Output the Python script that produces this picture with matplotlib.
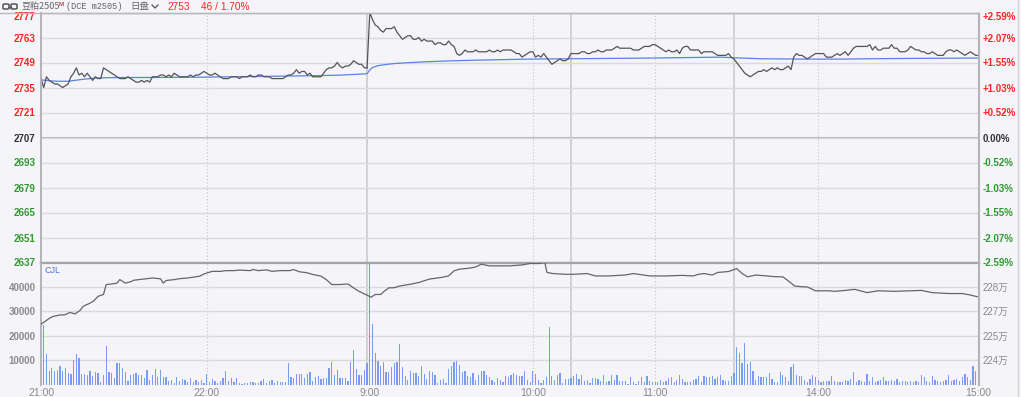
import matplotlib
matplotlib.use('Agg')
import matplotlib.pyplot as plt
from matplotlib.lines import Line2D
from matplotlib.patches import FancyBboxPatch
import numpy as np

# ---------------- data ----------------
price_night = [
    2740, 2735, 2741, 2739, 2738, 2737, 2737, 2736, 2735, 2736,
    2737, 2741, 2743, 2746, 2742, 2743, 2741, 2743, 2741, 2739,
    2741, 2740, 2740, 2746, 2745, 2744, 2743, 2742, 2741, 2740,
    2740, 2740, 2741, 2740, 2739, 2738, 2738, 2739, 2738, 2739,
    2738, 2741, 2741, 2741, 2742, 2742, 2741, 2742, 2741, 2743,
    2742, 2741, 2741, 2741, 2741, 2742, 2741, 2742, 2742, 2743,
    2744, 2743, 2742, 2742, 2743, 2742, 2741, 2740, 2740, 2740,
    2741, 2741, 2741, 2740, 2741, 2741, 2741, 2742, 2741, 2741,
    2742, 2742, 2741, 2741, 2741, 2740, 2740, 2740, 2740, 2740,
    2741, 2742, 2742, 2743, 2745, 2743, 2744, 2744, 2742, 2743,
    2741, 2741, 2741, 2741, 2743, 2745, 2746, 2746, 2747, 2749,
    2747, 2746, 2747, 2747, 2748, 2750, 2749, 2748, 2748, 2746,
    2746,
]
price_day = [
    2777, 2773, 2770, 2769, 2767, 2766, 2768, 2768, 2768, 2769,
    2766, 2764, 2762, 2763, 2764, 2764, 2762, 2762, 2763, 2761,
    2762, 2761, 2761, 2761, 2759, 2760, 2760, 2759, 2759, 2761,
    2759, 2758, 2754, 2753, 2754, 2756, 2755, 2755, 2755, 2756,
    2755, 2755, 2755, 2755, 2756, 2755, 2755, 2756, 2755, 2756,
    2756, 2756, 2756, 2755, 2754, 2754, 2752, 2753, 2754, 2755,
    2755, 2752, 2753, 2752, 2754, 2752, 2750, 2748, 2749, 2750,
    2751, 2750, 2750, 2751, 2754, 2754, 2754, 2754, 2755, 2755,
    2754, 2754, 2755, 2755, 2756, 2755, 2755, 2756, 2756, 2756,
    2757, 2758, 2757, 2757, 2757, 2757, 2757, 2756, 2756, 2756,
    2757, 2758, 2758, 2758, 2759, 2759, 2758, 2757, 2756, 2755,
    2756, 2755, 2755, 2756, 2754, 2757, 2758, 2758, 2756, 2756,
    2756, 2756, 2754, 2755, 2755, 2755, 2755, 2754, 2753, 2753,
    2753, 2753, 2754, 2752, 2751, 2749, 2747, 2745, 2743, 2742,
    2741, 2742, 2743, 2744, 2744, 2745, 2744, 2745, 2746, 2745,
    2746, 2745, 2745, 2746, 2747, 2745, 2752, 2754, 2753, 2753,
    2752, 2751, 2752, 2753, 2754, 2754, 2754, 2754, 2752, 2752,
    2752, 2753, 2754, 2753, 2754, 2755, 2753, 2755, 2757, 2758,
    2758, 2758, 2758, 2758, 2759, 2756, 2758, 2756, 2756, 2757,
    2757, 2757, 2759, 2757, 2757, 2755, 2755, 2755, 2756, 2758,
    2757, 2756, 2756, 2755, 2755, 2754, 2754, 2755, 2754, 2753,
    2753, 2753, 2755, 2756, 2756, 2755, 2756, 2755, 2754, 2753,
    2754, 2755, 2754, 2753, 2753,
]

avg_time = [0, 3, 6, 10, 15, 20, 25, 30, 40, 50, 60, 70, 80, 90, 100, 110, 115, 120,
            121, 122, 124, 127, 130, 135, 140, 150, 160, 170, 180, 195, 210, 225, 240,
            250, 256, 265, 280, 295, 305, 320, 335, 345]
avg_vals = [2739.3, 2738.8, 2738.5, 2738.5, 2739.5, 2740.3, 2740.5, 2740.6, 2740.6, 2740.7,
            2740.8, 2741.0, 2741.2, 2741.4, 2741.6, 2741.9, 2742.3, 2742.7,
            2744.8, 2746.2, 2747.2, 2747.9, 2748.4, 2748.9, 2749.3, 2749.9, 2750.3, 2750.6,
            2750.9, 2751.1, 2751.3, 2751.5, 2751.8, 2752.0, 2751.6, 2751.1, 2750.9, 2750.9,
            2751.1, 2751.3, 2751.4, 2751.5]

volume = [
    24500, 12600, 5750, 6700, 5600, 6000, 7700, 5600, 6700, 4650,
    4400, 10100, 12600, 10800, 4250, 4500, 4000, 5750, 3700, 5350,
    4800, 1200, 4000, 16000, 5350, 4800, 2900, 9000, 9000, 7000,
    5350, 1650, 4000, 4500, 4650, 4000, 4000, 2600, 6000, 1900,
    4000, 6300, 3300, 6000, 3300, 3300, 1500, 1800, 800, 3000,
    1650, 2300, 2000, 1200, 2600, 950, 1900, 950, 1900, 700,
    4400, 950, 2300, 1500, 700, 1500, 2600, 5600, 1500, 2600,
    950, 2900, 550, 400, 700, 800, 1200, 1200, 550, 800,
    1500, 2200, 700, 1500, 2000, 700, 1500, 1100, 1100, 1100,
    8800, 3300, 2600, 4400, 4400, 4250, 2600, 4250, 5000, 1500,
    3150, 3700, 2300, 2900, 2600, 6700, 9450, 4000, 6000, 2600,
    2600, 2900, 1500, 9450, 14000, 6450, 4000, 4000, 6000, 8800,
    60000, 25000, 12900, 9700, 7800, 9450, 5000, 5000, 7100, 8900,
    9300, 16700, 7100, 3400, 2050, 5500, 4800, 4650, 3400, 7800,
    4400, 2300, 5500, 5100, 3800, 700, 1950, 2300, 700, 6350,
    7800, 9300, 9600, 7950, 5200, 5500, 3400, 3000, 4650, 2050,
    3800, 5500, 5500, 4100, 3000, 2050, 1100, 2750, 2050, 1100,
    3400, 3300, 3800, 4800, 4100, 3400, 3400, 5750, 2050, 1100,
    5500, 4400, 2050, 700, 2050, 3000, 23700, 3400, 2050, 4100,
    4800, 700, 2500, 2500, 2750, 3400, 4400, 2500, 3800, 1650,
    2050, 700, 2750, 2750, 2500, 1650, 3800, 1100, 1650, 3800,
    2050, 3800, 1650, 1650, 1650, 300, 3000, 1100, 300, 1650,
    3000, 1100, 3400, 1650, 1100, 1100, 1100, 2050, 1100, 1400,
    2750, 3000, 1100, 2050, 3800, 2500, 1100, 1100, 1100, 2050,
    2500, 3400, 1100, 3400, 3000, 3000, 3400, 2500, 3000, 3800,
    2050, 1650, 1650, 3400, 4800, 15300, 13000, 8900, 17100, 8500,
    9300, 5750, 2050, 3400, 3150, 3150, 3000, 4800, 2500, 1100,
    1100, 5200, 4100, 3000, 1400, 7250, 8500, 3800, 3400, 3400,
    2050, 1100, 2500, 4100, 3000, 2050, 1100, 1400, 1400, 1650,
    3400, 1650, 1100, 1100, 1100, 2050, 1650, 2500, 5200, 1100,
    2050, 1400, 1100, 4400, 1400, 3150, 1100, 1650, 2050, 3000,
    1400, 1650, 2050, 1400, 2500, 1100, 1650, 1400, 1100, 1400,
    1100, 1650, 1100, 3800, 3000, 1650, 1100, 3400, 2050, 1650,
    1100, 1400, 2050, 3800, 1650, 2050, 2500, 1650, 3000, 4400,
    3000, 2050, 7500, 5750, 6000,
]

oi_time = [0, 1.5, 3.3, 4.5, 5.7, 7, 8.8, 10.6, 12.5, 14.3, 15.6, 17.4, 19.2, 21, 23, 24, 26,
           28, 29, 31, 33, 34, 36, 39, 41, 44, 45, 46, 49, 51, 54, 56, 58.5, 60, 63, 66, 68,
           71, 73, 77, 78, 80, 83, 85, 88, 91.5, 93, 95, 98, 100, 103, 105, 107, 110, 113,
           115, 117, 120, 121.5, 123, 125, 126, 128, 130, 132, 136, 139, 143, 147, 150, 152,
           154, 158, 160, 162, 165, 169, 172.5, 177, 180, 183.5, 185.4, 186.2, 188.4, 193,
           196, 201, 204, 209, 215, 218, 224, 230, 236, 240, 242, 244, 247, 249, 253, 256,
           258, 260, 263, 267, 270, 273, 275, 277.4, 280, 282, 285, 287, 290, 292, 296,
           299.4, 304, 308, 314, 320, 324, 328, 334, 339, 342, 345]
oi_vals = [225.97, 226.12, 226.31, 226.39, 226.43, 226.47, 226.48, 226.61, 226.53, 226.71,
           226.95, 227.07, 227.21, 227.49, 227.59, 228.13, 228.16, 228.21, 228.40, 228.21,
           228.28, 228.36, 228.40, 228.45, 228.49, 228.44, 228.21, 228.35, 228.40, 228.45,
           228.49, 228.53, 228.59, 228.71, 228.85, 228.85, 228.89, 228.89, 228.92, 228.89,
           228.95, 228.89, 228.93, 228.85, 228.89, 228.89, 228.95, 228.83, 228.77, 228.68,
           228.59, 228.40, 228.13, 228.13, 228.16, 227.95, 227.76, 227.55, 227.44, 227.59,
           227.59, 227.73, 227.95, 227.96, 228.05, 228.15, 228.24, 228.43, 228.51, 228.60,
           228.88, 228.97, 229.03, 229.09, 229.24, 229.15, 229.15, 229.15, 229.20, 229.28,
           229.28, 229.33, 228.79, 228.73, 228.69, 228.69, 228.73, 228.60, 228.60, 228.65,
           228.73, 228.60, 228.60, 228.63, 228.60, 228.69, 228.73, 228.65, 228.79, 228.84,
           229.00, 228.73, 228.55, 228.65, 228.60, 228.56, 228.55, 228.33, 228.05, 228.01,
           228.00, 227.79, 227.79, 227.79, 227.76, 227.81, 227.87, 227.69, 227.79, 227.76,
           227.79, 227.81, 227.69, 227.64, 227.64, 227.56, 227.45]

price_ticks = [2777, 2763, 2749, 2735, 2721, 2707, 2693, 2679, 2665, 2651, 2637]
pct_labels = ['+2.59%', '+2.07%', '+1.55%', '+1.03%', '+0.52%', '0.00%',
              '-0.52%', '-1.03%', '-1.55%', '-2.07%', '-2.59%']
base_price = 2707
vol_ticks = [40000, 30000, 20000, 10000]
vol_labels = ['40000', '30000', '20000', '10000']
oi_ticks = [228.0, 226.667, 225.333, 224.0]
oi_labels = ['228万', '227万', '225万', '224万']
time_ticks = [0, 61, 121, 181, 226, 286, 345]
time_labels = ['21:00', '22:00', '9:00', '10:00', '11:00', '14:00', '15:00']
dotted_lines = [61, 181, 226, 286]
session_lines = [120, 195, 255]

# ---------------- figure ----------------
W, H = 1021, 397
fig = plt.figure(figsize=(W / 100, H / 100), dpi=100)
BG = '#f4f4f9'
fig.patch.set_facecolor(BG)

def fx(px):
    return px / W

def fy(py):
    return 1 - py / H

L, R = 41, 978.5
T1, M, B2 = 12.5, 262.5, 384.7
ax1 = fig.add_axes([fx(L), fy(M), (R - L) / W, (M - T1) / H])
ax2 = fig.add_axes([fx(L), fy(B2), (R - L) / W, (B2 - M) / H])
for ax in (ax1, ax2):
    ax.set_facecolor(BG)
    ax.set_xlim(0, 345)

RED = '#ff2424'
GREEN = '#2f9a2f'
DARK = '#333333'
GRID = '#d9d9de'
SPINE = '#b4b4b8'
FONT = 'Liberation Sans'

# --- top panel
ax1.set_ylim(2637, 2777)
ax1.set_yticks(price_ticks)
ax1.set_yticklabels([str(t) for t in price_ticks])
for lab, t in zip(ax1.get_yticklabels(), price_ticks):
    lab.set_color(RED if t > base_price else (DARK if t == base_price else GREEN))
    lab.set_fontweight('bold')
    lab.set_fontfamily(FONT)
    if t == price_ticks[0]:
        lab.set_verticalalignment('top')
ax1.tick_params(axis='y', length=0, pad=4, labelsize=7)
ax1.set_xticks([])
ax1.grid(axis='y', color=GRID, lw=1)
ax1.axhline(base_price, color='#a8a8ac', lw=1.2, zorder=1)
for x in dotted_lines:
    ax1.axvline(x, color='#c4c4c8', lw=0.8, ls=(0, (1, 2)), zorder=1)
for x in session_lines:
    ax1.axvline(x, color='#c8c8cc', lw=1.1, zorder=1)

n_night = len(price_night)
ax1.plot(np.arange(n_night), price_night, color='#555555', lw=0.9, zorder=3)
ax1.plot(np.arange(n_night - 1, n_night + len(price_day)),
         [price_night[-1]] + price_day, color='#555555', lw=0.9, zorder=3)
ax1.plot(avg_time, avg_vals, color='#5b82e6', lw=0.9, zorder=2)

ax1r = ax1.twinx()
ax1r.set_ylim(2637, 2777)
ax1r.set_yticks(price_ticks)
ax1r.set_yticklabels(pct_labels)
for lab, t in zip(ax1r.get_yticklabels(), price_ticks):
    lab.set_color(RED if t > base_price else (DARK if t == base_price else GREEN))
    lab.set_fontweight('bold')
    lab.set_fontfamily(FONT)
    if t == price_ticks[0]:
        lab.set_verticalalignment('top')
ax1r.tick_params(axis='y', length=0, pad=3, labelsize=7)

for a in (ax1, ax1r):
    a.spines['left'].set_color(SPINE)
    a.spines['right'].set_color(SPINE)
    a.spines['top'].set_color(SPINE)
    a.spines['bottom'].set_color('#a4a4a8')
    a.spines['bottom'].set_linewidth(1.6)
    a.spines['left'].set_linewidth(1.2)

# --- bottom panel
ax2.set_ylim(0, 50000)
ax2.set_yticks(vol_ticks)
ax2.set_yticklabels(vol_labels)
for lab in ax2.get_yticklabels():
    lab.set_color('#8a8a8e')
    lab.set_fontweight('bold')
    lab.set_fontfamily(FONT)
ax2.tick_params(axis='y', length=0, pad=4, labelsize=7)
ax2.grid(axis='y', color=GRID, lw=1)
for x in dotted_lines:
    ax2.axvline(x, color='#c4c4c8', lw=0.8, ls=(0, (1, 2)), zorder=1)
for x in session_lines:
    ax2.axvline(x, color='#c8c8cc', lw=1.1, zorder=1)

ax2.bar(np.arange(1, len(volume) + 1), volume, width=0.45, color='#7b9bf0', lw=0, zorder=2)

ax2.set_xticks(time_ticks)
ax2.set_xticklabels(time_labels)
for lab in ax2.get_xticklabels():
    lab.set_color('#8a8a8e')
    lab.set_fontfamily(FONT)
ax2.tick_params(axis='x', length=0, pad=2.5, labelsize=7.5)
ax2.text(0.004, 0.975, 'CJL', transform=ax2.transAxes, ha='left', va='top',
         fontsize=6.5, color='#4f73e0', family=FONT)

ax2r = ax2.twinx()
ax2r.set_ylim(222.667, 229.333)
ax2r.set_yticks(oi_ticks)
ax2r.set_yticklabels(oi_labels)
for lab in ax2r.get_yticklabels():
    lab.set_color('#8a8a8e')
    lab.set_fontfamily(['Liberation Sans', 'Noto Sans CJK SC'])
ax2r.tick_params(axis='y', length=0, pad=3, labelsize=7)
ax2r.plot(oi_time, oi_vals, color='#666666', lw=0.9, zorder=3)

for a in (ax2, ax2r):
    a.spines['left'].set_color(SPINE)
    a.spines['right'].set_color(SPINE)
    a.spines['top'].set_visible(False)
    a.spines['bottom'].set_visible(False)
    a.spines['left'].set_linewidth(1.2)

# --- header and frame decorations
fig.add_artist(Line2D([0, fx(R)], [fy(T1), fy(T1)], color='#b8b8bc', lw=1))
fig.add_artist(Line2D([fx(1017.5), fx(1017.5)], [0, 1], color='#d4d4d8', lw=1))
for x0 in (3, 11):
    fig.add_artist(FancyBboxPatch((fx(x0), fy(9)), fx(6), 5 / H,
                                  boxstyle='round,pad=0,rounding_size=0.002',
                                  ec='#555555', fc='none', lw=1.1))
fig.add_artist(Line2D([fx(9), fx(11)], [fy(6.5), fy(6.5)], color='#555555', lw=1))

hy = fy(6.5)
fig.text(fx(21), hy, '豆粕2505', family=['Noto Sans CJK SC'], fontsize=6.5,
         color='#666666', va='center', ha='left')
fig.text(fx(59), fy(4), 'M', family=FONT, fontsize=4.5, color='#b04a4a',
         va='center', ha='left', fontweight='bold')
fig.text(fx(66), hy, '(DCE m2505)', family=['Liberation Mono'], fontsize=6.2,
         color='#666666', va='center', ha='left')
fig.text(fx(130), hy, '日盘', family=['Noto Sans CJK SC'], fontsize=6.8,
         color='#666666', va='center', ha='left')
fig.add_artist(Line2D([fx(152), fx(155), fx(158)], [fy(5), fy(8), fy(5)],
                      color='#555555', lw=0.9))
fig.text(fx(167), hy, '2753', family=FONT, fontsize=7.3, color=RED,
         va='center', ha='left')
fig.text(fx(201), hy, '46 / 1.70%', family=FONT, fontsize=7.3, color=RED,
         va='center', ha='left')

fig.savefig('out.png', dpi=100, facecolor=BG)
